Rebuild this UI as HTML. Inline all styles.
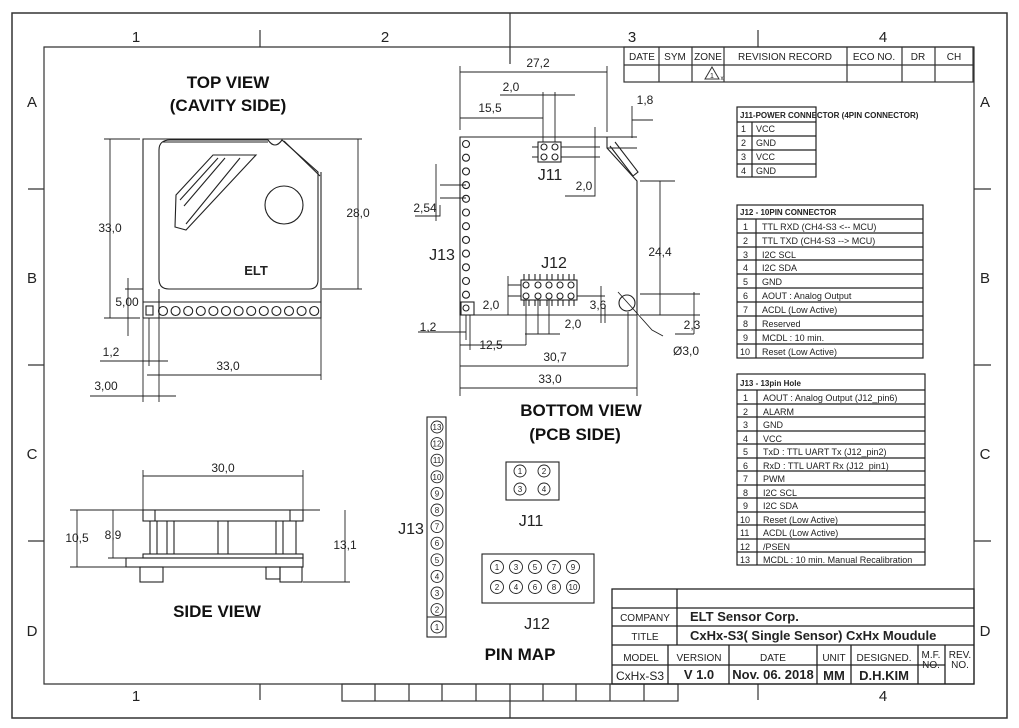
<!DOCTYPE html>
<html><head><meta charset="utf-8"><style>
html,body{margin:0;padding:0;background:#fff}
svg{display:block}
text{font-family:"Liberation Sans",sans-serif;fill:#222}
.d{font-size:12px;fill:#444}
.b{font-weight:bold;font-size:17px;fill:#111}
.t{font-size:8px;font-weight:bold}
.s{font-size:9px}
</style></head><body>
<svg width="1019" height="728" viewBox="0 0 1019 728" xmlns="http://www.w3.org/2000/svg">
<g fill="none" stroke="#333" stroke-width="1.2">
<rect x="12" y="13" width="995" height="705" stroke-width="1.5"/>
<path d="M44 684 V47 H974 V684 Z"/>
<path d="M260 30 V47 M510 13 V64 M758 30 V47 M28 189 H44 M28 365 H44 M28 541 H44 M974 189 H991 M974 365 H991 M974 541 H991 M260 684 V700 M510 684 V718 M758 684 V700"/>
<rect x="342" y="684" width="336" height="17"/>
<path d="M375 684V701M409 684V701M442 684V701M476 684V701M543 684V701M576 684V701M610 684V701M644 684V701"/>
<rect x="624" y="47" width="349" height="35"/>
<path d="M624 65H973 M659 47V82 M692 47V82 M724 47V82 M847 47V82 M902 47V82 M935 47V82"/>
<path d="M705 79 L712 67 L719 79 Z" stroke-width="1"/>
</g>
<g font-size="10" text-anchor="middle">
<text x="642" y="60">DATE</text><text x="675" y="60">SYM</text><text x="708" y="60">ZONE</text><text x="785" y="60">REVISION  RECORD</text><text x="874" y="60">ECO  NO.</text><text x="918" y="60">DR</text><text x="954" y="60">CH</text>
<text x="712" y="78" font-size="7">1</text><text x="722" y="80" font-size="6">x</text>
</g>
<g font-size="15" text-anchor="middle" fill="#333">
<text x="136" y="42">1</text><text x="385" y="42">2</text><text x="632" y="42">3</text><text x="883" y="42">4</text>
<text x="136" y="701">1</text><text x="883" y="701">4</text>
<text x="32" y="107">A</text><text x="32" y="283">B</text><text x="32" y="459">C</text><text x="32" y="636">D</text>
<text x="985" y="107">A</text><text x="985" y="283">B</text><text x="985" y="459">C</text><text x="985" y="636">D</text>
</g>

<text class="b" x="228" y="88" text-anchor="middle">TOP VIEW</text>
<text class="b" x="228" y="111" text-anchor="middle">(CAVITY SIDE)</text>
<text x="256" y="275" text-anchor="middle" font-size="13" font-weight="bold" fill="#111">ELT</text>
<g fill="none" stroke="#222" stroke-width="1.1">
<path d="M143 318 V139 H362 M321 172 V318 H143 M143 302 H321 M159 289 V318"/>
<path d="M170 140 H268 Q275 150 282 140 L318 172 V280 Q318 289 309 289 H169 Q159 289 159 279 V150 Q159 140 170 140 Z"/>
<path d="M163 142 H268 M284 141 L320 176"/>
<path d="M213 155 H256 L186 230 L175 227 L176 195 Z M218 158 L180 200 M225 158 L184 206 M240 158 L186 224"/>
<circle cx="284" cy="205" r="19"/>
<rect x="146" y="306" width="7" height="9"/>
<g>
<circle cx="163" cy="311" r="4.5"/><circle cx="175.6" cy="311" r="4.5"/><circle cx="188.2" cy="311" r="4.5"/><circle cx="200.8" cy="311" r="4.5"/><circle cx="213.4" cy="311" r="4.5"/><circle cx="226" cy="311" r="4.5"/><circle cx="238.6" cy="311" r="4.5"/><circle cx="251.2" cy="311" r="4.5"/><circle cx="263.8" cy="311" r="4.5"/><circle cx="276.4" cy="311" r="4.5"/><circle cx="289" cy="311" r="4.5"/><circle cx="301.6" cy="311" r="4.5"/><circle cx="314.2" cy="311" r="4.5"/>
</g>
<path d="M104 139 H140 M110 139 V318 M104 318 H140 M358 139 V289 M322 289 H362 M128 278 V336 M125 289 H143 M100 361 H168 M149 318 V366 M159 318 V402 M147 375 H321 M321 318 V380 M143 318 V402 M90 396 H176" stroke-width="0.9"/>
</g>
<g class="d" text-anchor="middle">
<text x="110" y="232">33,0</text><text x="358" y="217">28,0</text><text x="127" y="306">5,00</text><text x="111" y="356">1,2</text><text x="228" y="370">33,0</text><text x="106" y="390">3,00</text>
</g>

<g fill="none" stroke="#222" stroke-width="1.1">
<path d="M460 137 H607 V148 L637 181 V315 H460 Z"/>
<path d="M610 146 L633 176 L638 172 L615 142"/>
<rect x="461" y="302" width="13" height="13"/>
<g>
<circle cx="466" cy="144" r="3.5"/><circle cx="466" cy="157.7" r="3.5"/><circle cx="466" cy="171.4" r="3.5"/><circle cx="466" cy="185.1" r="3.5"/><circle cx="466" cy="198.8" r="3.5"/><circle cx="466" cy="212.5" r="3.5"/><circle cx="466" cy="226.2" r="3.5"/><circle cx="466" cy="239.9" r="3.5"/><circle cx="466" cy="253.6" r="3.5"/><circle cx="466" cy="267.3" r="3.5"/><circle cx="466" cy="281" r="3.5"/><circle cx="466" cy="294.7" r="3.5"/><circle cx="466" cy="308" r="3"/>
</g>
<rect x="538" y="142" width="23" height="20"/>
<path d="M532 147H538 M532 157H538 M561 147H567 M561 157H567"/>
<circle cx="544" cy="147" r="3"/><circle cx="555" cy="147" r="3"/><circle cx="544" cy="157" r="3"/><circle cx="555" cy="157" r="3"/>
<rect x="521" y="280" width="56" height="20"/>
<path d="M524 274V280M529 274V280M535 274V280M540 274V280M547 274V280M552 274V280M558 274V280M563 274V280M569 274V280M574 274V280 M524 300V306M529 300V306M535 300V306M540 300V306M547 300V306M552 300V306M558 300V306M563 300V306M569 300V306M574 300V306"/>
<circle cx="526" cy="285" r="3"/><circle cx="538" cy="285" r="3"/><circle cx="549" cy="285" r="3"/><circle cx="560" cy="285" r="3"/><circle cx="571" cy="285" r="3"/>
<circle cx="526" cy="296" r="3"/><circle cx="538" cy="296" r="3"/><circle cx="549" cy="296" r="3"/><circle cx="560" cy="296" r="3"/><circle cx="571" cy="296" r="3"/>
<circle cx="627" cy="303" r="8"/>
<g stroke-width="0.9">
<path d="M460 130 V66 M607 132 V66 M460 72 H607 M500 95 H575 M543 92 V142 M555 92 V142 M460 118 H543 M632 106 V138 M632 120 H653 M607 137 H637 M607 148 H637 M595 127 V158 M561 147 H600 M561 157 H600 M565 196 H595 V158 M436 164 V221 M440 185 H466 M440 198 H466 M415 216 H440 V205"/>
<path d="M640 181 H675 M660 181 V315 M640 315 H700 M694 292 V334 M640 294 H700 M675 334 H694 M508 276 V315 M508 285 H521 M508 296 H521 M601 286 V323 M577 296 H605 M605 305 V323"/>
<path d="M538 300 V334 M549 300 V334 M525 334 H560 M470 315 V350 M466 315 V340 M418 332 H466 M460 315 V396 M526 300 V345 M460 345 H526 M618 292 L652 330 L663 336 M637 315 V396 M628 312 V366 M460 366 H628 M460 388 H637"/>
</g>
</g>
<g class="d" text-anchor="middle">
<text x="538" y="67">27,2</text><text x="511" y="91">2,0</text><text x="490" y="112">15,5</text><text x="645" y="104">1,8</text><text x="425" y="212">2,54</text><text x="584" y="190">2,0</text><text x="660" y="256">24,4</text><text x="491" y="309">2,0</text><text x="598" y="309">3,6</text><text x="573" y="328">2,0</text><text x="692" y="329">2,3</text><text x="428" y="331">1,2</text><text x="491" y="349">12,5</text><text x="686" y="355">Ø3,0</text><text x="555" y="361">30,7</text><text x="550" y="383">33,0</text>
</g>
<g font-size="16" fill="#333" text-anchor="middle">
<text x="442" y="260">J13</text><text x="550" y="180">J11</text><text x="554" y="268">J12</text>
</g>
<text class="b" x="581" y="416" text-anchor="middle">BOTTOM VIEW</text>
<text class="b" x="575" y="440" text-anchor="middle">(PCB  SIDE)</text>

<g fill="none" stroke="#222" stroke-width="1.2">
<rect x="737" y="107" width="79" height="70"/>
<path d="M737 122H816M737 136H816M737 150H816M737 164H816M752 122V177"/>
<rect x="737" y="205" width="186" height="153"/>
<path d="M737 219H923M737 233H923M737 247H923M737 260H923M737 274H923M737 288H923M737 302H923M737 316H923M737 330H923M737 344H923M756 219V358"/>
<rect x="737" y="374" width="188" height="191"/>
<path d="M737 390H925M737 404H925M737 417H925M737 431H925M737 444H925M737 458H925M737 471H925M737 485H925M737 498H925M737 512H925M737 525H925M737 539H925M737 552H925M757 390V565"/>
</g>
<g class="t"><text x="740" y="118">J11-POWER CONNECTOR (4PIN CONNECTOR)</text><text x="740" y="215">J12 - 10PIN CONNECTOR</text><text x="740" y="386">J13 - 13pin Hole</text></g>
<g class="s">
<text x="741" y="132">1</text><text x="756" y="132">VCC</text>
<text x="741" y="146">2</text><text x="756" y="146">GND</text>
<text x="741" y="160">3</text><text x="756" y="160">VCC</text>
<text x="741" y="174">4</text><text x="756" y="174">GND</text>
<text x="743" y="230">1</text><text x="762" y="230">TTL RXD (CH4-S3 &lt;-- MCU)</text>
<text x="743" y="244">2</text><text x="762" y="244">TTL TXD (CH4-S3 --&gt; MCU)</text>
<text x="743" y="258">3</text><text x="762" y="258">I2C SCL</text>
<text x="743" y="271">4</text><text x="762" y="271">I2C SDA</text>
<text x="743" y="285">5</text><text x="762" y="285">GND</text>
<text x="743" y="299">6</text><text x="762" y="299">AOUT : Analog Output</text>
<text x="743" y="313">7</text><text x="762" y="313">ACDL (Low Active)</text>
<text x="743" y="327">8</text><text x="762" y="327">Reserved</text>
<text x="743" y="341">9</text><text x="762" y="341">MCDL : 10 min.</text>
<text x="740" y="355">10</text><text x="762" y="355">Reset (Low Active)</text>
<text x="743" y="401">1</text><text x="763" y="401">AOUT : Analog Output (J12_pin6)</text>
<text x="743" y="415">2</text><text x="763" y="415">ALARM</text>
<text x="743" y="428">3</text><text x="763" y="428">GND</text>
<text x="743" y="442">4</text><text x="763" y="442">VCC</text>
<text x="743" y="455">5</text><text x="763" y="455">TxD : TTL UART Tx (J12_pin2)</text>
<text x="743" y="469">6</text><text x="763" y="469">RxD : TTL UART Rx (J12_pin1)</text>
<text x="743" y="482">7</text><text x="763" y="482">PWM</text>
<text x="743" y="496">8</text><text x="763" y="496">I2C SCL</text>
<text x="743" y="509">9</text><text x="763" y="509">I2C SDA</text>
<text x="740" y="523">10</text><text x="763" y="523">Reset (Low Active)</text>
<text x="740" y="536">11</text><text x="763" y="536">ACDL (Low Active)</text>
<text x="740" y="550">12</text><text x="763" y="550">/PSEN</text>
<text x="740" y="563">13</text><text x="763" y="563">MCDL : 10 min. Manual Recalibration</text>
</g>

<g fill="none" stroke="#222" stroke-width="1.1">
<rect x="143" y="510" width="160" height="11"/>
<path d="M155 510V521M290 510V521"/>
<path d="M150 521V554M157 521V554M167 521V554M174 521V554M218 521V554M228 521V554M276 521V554M283 521V554M296 521V554"/>
<rect x="143" y="554" width="160" height="4"/>
<rect x="126" y="558" width="177" height="9"/>
<rect x="140" y="567" width="23" height="15"/><rect x="266" y="567" width="14" height="12"/><rect x="280" y="567" width="22" height="15"/>
<g stroke-width="0.9">
<path d="M143 470 V510 M303 470 V510 M143 476 H303 M70 510 H320 M77 510 V567 M70 567 H126 M113 510 V558 M108 558 H143 M345 510 V582 M303 582 H350"/>
</g>
</g>
<g class="d" text-anchor="middle"><text x="223" y="472">30,0</text><text x="77" y="542">10,5</text><text x="113" y="539">8,9</text><text x="345" y="549">13,1</text></g>
<text class="b" x="217" y="617" text-anchor="middle">SIDE VIEW</text>

<g fill="none" stroke="#222" stroke-width="1.1">
<rect x="427" y="417" width="19" height="220"/><path d="M427 617H446"/>
<rect x="506" y="462" width="53" height="38"/>
<rect x="482" y="554" width="112" height="49"/>
<g stroke-width="0.9">
<circle cx="437" cy="427" r="6"/><circle cx="437" cy="443.6" r="6"/><circle cx="437" cy="460.2" r="6"/><circle cx="437" cy="476.8" r="6"/><circle cx="437" cy="493.4" r="6"/><circle cx="437" cy="510" r="6"/><circle cx="437" cy="526.6" r="6"/><circle cx="437" cy="543.2" r="6"/><circle cx="437" cy="559.8" r="6"/><circle cx="437" cy="576.4" r="6"/><circle cx="437" cy="593" r="6"/><circle cx="437" cy="609.6" r="6"/><circle cx="437" cy="627" r="6"/>
<circle cx="520" cy="471" r="6"/><circle cx="544" cy="471" r="6"/><circle cx="520" cy="489" r="6"/><circle cx="544" cy="489" r="6"/>
<circle cx="497" cy="567" r="6.5"/><circle cx="516" cy="567" r="6.5"/><circle cx="535" cy="567" r="6.5"/><circle cx="554" cy="567" r="6.5"/><circle cx="573" cy="567" r="6.5"/>
<circle cx="497" cy="587" r="6.5"/><circle cx="516" cy="587" r="6.5"/><circle cx="535" cy="587" r="6.5"/><circle cx="554" cy="587" r="6.5"/><circle cx="573" cy="587" r="6.5"/>
</g>
</g>
<g font-size="8" text-anchor="middle">
<text x="437" y="430">13</text><text x="437" y="446.6">12</text><text x="437" y="463.2">11</text><text x="437" y="479.8">10</text><text x="437" y="496.4">9</text><text x="437" y="513">8</text><text x="437" y="529.6">7</text><text x="437" y="546.2">6</text><text x="437" y="562.8">5</text><text x="437" y="579.4">4</text><text x="437" y="596">3</text><text x="437" y="612.6">2</text><text x="437" y="630">1</text>
<text x="520" y="474">1</text><text x="544" y="474">2</text><text x="520" y="492">3</text><text x="544" y="492">4</text>
<text x="497" y="570">1</text><text x="516" y="570">3</text><text x="535" y="570">5</text><text x="554" y="570">7</text><text x="573" y="570">9</text>
<text x="497" y="590">2</text><text x="516" y="590">4</text><text x="535" y="590">6</text><text x="554" y="590">8</text><text x="573" y="590">10</text>
</g>
<g font-size="16" fill="#333" text-anchor="middle"><text x="411" y="534">J13</text><text x="531" y="526">J11</text><text x="537" y="629">J12</text></g>
<text class="b" x="520" y="660" text-anchor="middle">PIN MAP</text>

<g fill="none" stroke="#222" stroke-width="1.3">
<rect x="612" y="589" width="362" height="95"/>
<path d="M612 608H974M612 626H974M612 645H974M612 665H945M677 589V645M668 645V684M729 645V684M817 645V684M851 645V684M918 645V684M945 645V684"/>
</g>
<g text-anchor="middle" font-size="10">
<text x="645" y="621">COMPANY</text><text x="645" y="640">TITLE</text>
<text x="641" y="661">MODEL</text><text x="699" y="661">VERSION</text><text x="773" y="661">DATE</text><text x="834" y="661">UNIT</text><text x="884" y="661">DESIGNED.</text><text x="931" y="658">M.F.</text><text x="931" y="668">NO.</text><text x="960" y="658">REV.</text><text x="960" y="668">NO.</text>
<text x="640" y="680" font-size="12">CxHx-S3</text><text x="699" y="679" font-size="13" font-weight="bold">V 1.0</text><text x="773" y="679" font-size="13" font-weight="bold">Nov. 06. 2018</text><text x="834" y="680" font-size="13" font-weight="bold">MM</text><text x="884" y="680" font-size="13" font-weight="bold">D.H.KIM</text>
</g>
<text x="690" y="621" font-size="13" font-weight="bold">ELT Sensor Corp.</text>
<text x="690" y="640" font-size="13" font-weight="bold">CxHx-S3( Single Sensor) CxHx Moudule</text>
</svg>
</body></html>
